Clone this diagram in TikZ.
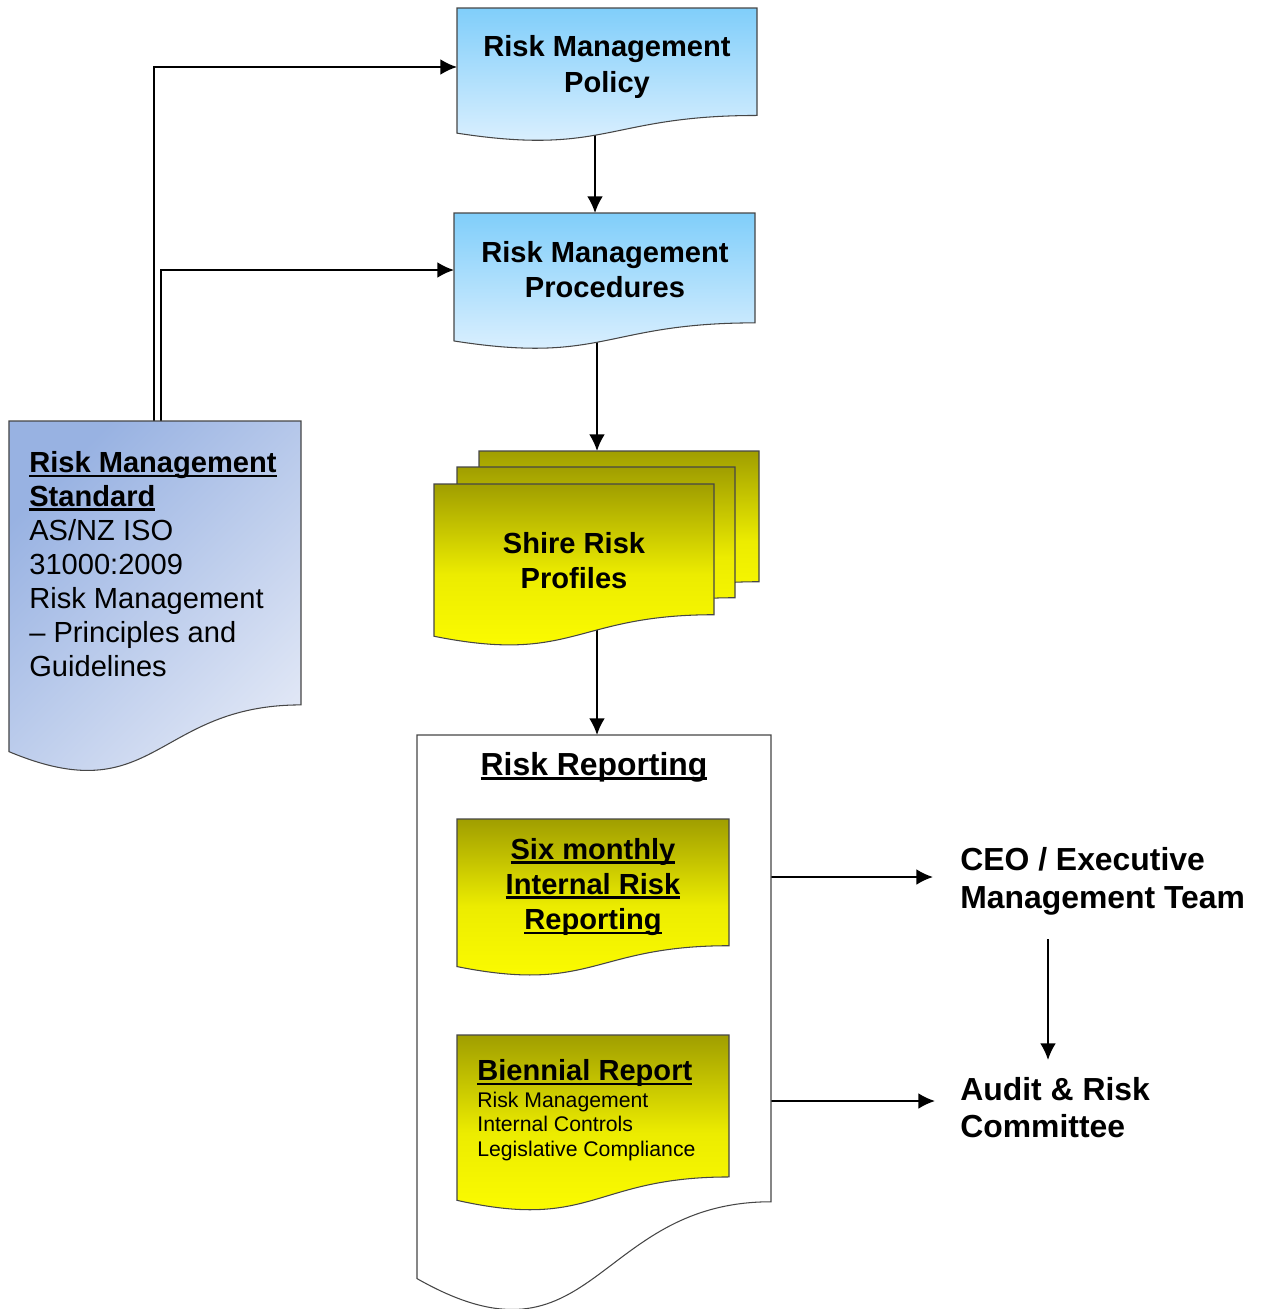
\documentclass[tikz,border=0pt]{standalone}
\usepackage{fontspec}
\setmainfont{Liberation Sans}
\usetikzlibrary{calc,arrows.meta}
\pgfdeclarelayer{bg}\pgfdeclarelayer{shp}
\pgfsetlayers{bg,shp,main}
\newsavebox\ulbox
\newcommand\myul[1]{\sbox\ulbox{#1}\rlap{\rule[-0.16em]{\wd\ulbox}{0.095em}}\usebox\ulbox}
\newcommand\docshape[2]{%
  \path[#2] (#1.north west) -- (#1.north east) -- ($(#1.north east)!0.802!(#1.south east)$)
    .. controls ($(#1.north)!0.802!(#1.south)$) and ($(#1.north)!1.107!(#1.south)$) ..
    ($(#1.north west)!0.934!(#1.south west)$) -- cycle;}
\definecolor{blueT}{RGB}{128,206,250}
\definecolor{blueM}{RGB}{178,226,252}
\definecolor{blueB}{RGB}{228,243,255}
\definecolor{yelT}{RGB}{160,158,0}
\definecolor{yelM}{RGB}{236,236,0}
\definecolor{yelB}{RGB}{255,255,0}
\definecolor{stdA}{RGB}{152,178,226}
\definecolor{stdB}{RGB}{226,232,246}
\definecolor{edge}{RGB}{70,70,70}
\tikzset{
  box/.style 2 args={inner sep=0pt,outer sep=0pt,anchor=north west,minimum width=#1,minimum height=#2},
  arr/.style={line width=1.1pt,-{Latex[length=9.5pt,width=9pt]}},
  bluedoc/.style={draw=edge,line width=0.6pt,top color=blueT,middle color=blueM,bottom color=blueB},
  yeldoc/.style={draw=edge,line width=0.6pt,top color=yelT,bottom color=yelB,middle color=yelM},
  whitedoc/.style={draw=edge,line width=0.6pt,fill=white},
  stddoc/.style={draw=edge,line width=0.6pt,top color=stdA,bottom color=stdB,shading angle=45},
  tb/.style={align=center,inner sep=0pt,font=\fontsize{16.55pt}{20pt}\selectfont\bfseries},
  tl/.style={align=left,inner sep=0pt,anchor=base west}
}
\begin{document}
\begin{tikzpicture}
\useasboundingbox (0,0) rectangle (25.22,-26.18);
% invisible boxes
\node[box={6cm}{2.68cm}] (pol) at (9.14,-0.16) {};
\node[box={6.02cm}{2.74cm}] (proc) at (9.08,-4.26) {};
\node[box={5.6cm}{3.26cm}] (shb) at (9.58,-9.02) {};
\node[box={5.56cm}{3.26cm}] (shm) at (9.14,-9.34) {};
\node[box={5.6cm}{3.26cm}] (shf) at (8.68,-9.68) {};
\node[box={7.08cm}{11.64cm}] (rep) at (8.34,-14.7) {};
\node[box={5.44cm}{3.16cm}] (six) at (9.14,-16.38) {};
\node[box={5.44cm}{3.54cm}] (bie) at (9.14,-20.7) {};
\node[box={5.84cm}{7.08cm}] (std) at (0.18,-8.42) {};
\coordinate (c1) at (18.66,-17.54);
\coordinate (c2) at (18.70,-22.02);
\coordinate (c3) at (20.96,-18.78);
\coordinate (c4) at (20.96,-21.2);
% connectors
\begin{pgfonlayer}{bg}
\draw[arr] ([xshift=-0.02cm]std.north) |- ([yshift=0.16cm]pol.west);
\draw[arr] ([xshift=0.12cm]std.north) |- ([yshift=0.23cm]proc.west);
\draw[arr] ([xshift=-0.24cm]pol.center) -- ([xshift=-0.24cm]pol.center |- proc.north);
\draw[arr] ([xshift=-0.15cm]proc.center) -- ([xshift=-0.15cm]proc.center |- shb.north);
\draw[arr] ([xshift=0.46cm]shf.center) -- ([xshift=0.46cm]shf.center |- rep.north);
\draw[arr] (rep.center |- c1) -- (c1);
\draw[arr] (rep.center |- c2) -- (c2);
\draw[arr] (c3) -- (c4);
\end{pgfonlayer}
% shapes
\begin{pgfonlayer}{shp}
\docshape{pol}{bluedoc}
\docshape{proc}{bluedoc}
\docshape{shb}{yeldoc}
\docshape{shm}{yeldoc}
\docshape{shf}{yeldoc}
\docshape{rep}{whitedoc}
\docshape{six}{yeldoc}
\docshape{bie}{yeldoc}
\docshape{std}{stddoc}
\end{pgfonlayer}
% texts
\node[tb,font=\fontsize{16.55pt}{20.5pt}\selectfont\bfseries] (polt) at (12.14,-1.34) {Risk Management\\Policy};
\node[tb] (proct) at (12.1,-5.39) {Risk Management\\Procedures};
\node[tb] (sht) at (11.48,-11.22) {Shire Risk\\Profiles};
\node[tb,font=\fontsize{18.14pt}{21.5pt}\selectfont\bfseries] (rept) at (11.88,-15.34) {\myul{Risk Reporting}};
\node[tb] (sixt) at (11.86,-17.74) {\myul{Six monthly}\\\myul{Internal Risk}\\\myul{Reporting}};
\node[tl,font=\fontsize{12.07pt}{13.9pt}\selectfont] (biet) at (9.54,-23.12)
  {{\fontsize{16.55pt}{15pt}\selectfont\bfseries\myul{Biennial Report}}\\[1.1pt]Risk Management\\Internal Controls\\Legislative Compliance};
\node[tl,font=\fontsize{16.55pt}{19.28pt}\selectfont] (stdt) at (0.58,-13.52)
  {\textbf{\myul{Risk Management}}\\\textbf{\myul{Standard}}\\AS/NZ ISO\\31000:2009\\Risk Management\\– Principles and\\Guidelines};
\node[tl,font=\fontsize{18.14pt}{21.5pt}\selectfont\bfseries] (ceo) at (19.2,-18.17) {CEO / Executive\\Management Team};
\node[tl,font=\fontsize{18.14pt}{21pt}\selectfont\bfseries] (aud) at (19.2,-22.75) {Audit \& Risk\\Committee};
\end{tikzpicture}
\end{document}
